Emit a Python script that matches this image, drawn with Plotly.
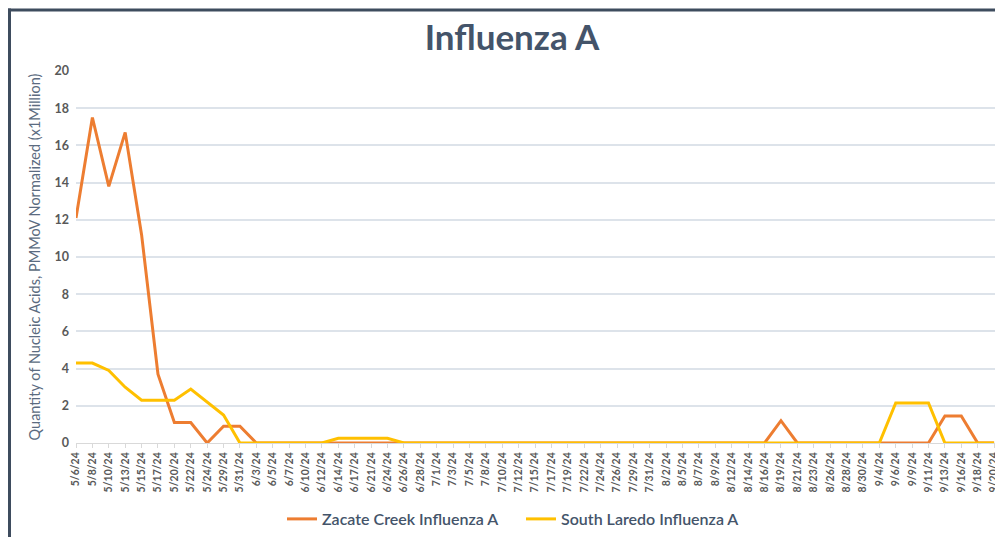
import plotly.graph_objects as go

dates = ["5/6/24","5/8/24","5/10/24","5/13/24","5/15/24","5/17/24","5/20/24","5/22/24","5/24/24","5/29/24",
         "5/31/24","6/3/24","6/5/24","6/7/24","6/10/24","6/12/24","6/14/24","6/17/24","6/21/24","6/24/24",
         "6/26/24","6/28/24","7/1/24","7/3/24","7/5/24","7/8/24","7/10/24","7/12/24","7/15/24","7/17/24",
         "7/19/24","7/22/24","7/24/24","7/26/24","7/29/24","7/31/24","8/2/24","8/5/24","8/7/24","8/9/24",
         "8/12/24","8/14/24","8/16/24","8/19/24","8/21/24","8/23/24","8/26/24","8/28/24","8/30/24","9/4/24",
         "9/6/24","9/9/24","9/11/24","9/13/24","9/16/24","9/18/24","9/20/24"]

zacate = [12.1, 17.5, 13.8, 16.7, 11.2, 3.7, 1.1, 1.1, 0.0, 0.9,
          0.9, 0, 0, 0, 0, 0, 0, 0, 0, 0,
          0, 0, 0, 0, 0, 0, 0, 0, 0, 0,
          0, 0, 0, 0, 0, 0, 0, 0, 0, 0,
          0, 0, 0, 1.2, 0, 0, 0, 0, 0, 0,
          0, 0, 0, 1.45, 1.45, 0, 0]

south_laredo = [4.3, 4.3, 3.9, 3.0, 2.3, 2.3, 2.3, 2.9, 2.2, 1.5,
                0, 0, 0, 0, 0, 0, 0.25, 0.25, 0.25, 0.25,
                0, 0, 0, 0, 0, 0, 0, 0, 0, 0,
                0, 0, 0, 0, 0, 0, 0, 0, 0, 0,
                0, 0, 0, 0, 0, 0, 0, 0, 0, 0,
                2.15, 2.15, 2.15, 0, 0, 0, 0]

y_ticks = [0, 2, 4, 6, 8, 10, 12, 14, 16, 18, 20]

fig = go.Figure()
fig.add_trace(go.Scatter(x=dates, y=zacate, mode="lines", name="Zacate Creek Influenza A",
                         line=dict(color="#ED7D31", width=3)))
fig.add_trace(go.Scatter(x=dates, y=south_laredo, mode="lines", name="South Laredo Influenza A",
                         line=dict(color="#FFC000", width=3)))

# the page body adds an 8px offset; figure coordinates below are page coordinates minus 8
L, R, T, B = 68, 4, 63, 94
W, H = 995, 529
pw, ph = W - L - R, H - T - B

def px_x(p):
    return (p - L) / pw

def px_y(p):
    return (H - B - p) / ph

fig.update_layout(
    width=W, height=H,
    margin=dict(l=L, r=R, t=T, b=B, autoexpand=False),
    paper_bgcolor="white", plot_bgcolor="white",
    font=dict(family="Lato, Open Sans, sans-serif", color="#595959"),
    title=dict(text="<b>Influenza A</b>", x=504 / W, xanchor="center", y=1 - 30 / H, yanchor="middle",
               font=dict(size=35, color="#44546A", family="Lato, Open Sans, sans-serif")),
    showlegend=True,
    legend=dict(orientation="h", x=px_x(274), xanchor="left", y=px_y(511), yanchor="middle",
                font=dict(size=16, color="#44546A", weight=600), itemwidth=30, entrywidth=194,
                bgcolor="rgba(0,0,0,0)"),
    xaxis=dict(type="category", range=[0, 56.3], tickangle=-90,
               tickfont=dict(size=10.5, color="#595959", weight="bold"),
               showgrid=False, showline=True, linecolor="#D9D9D9", linewidth=1,
               ticks="outside", ticklen=4, tickcolor="#D9D9D9", zeroline=False, automargin=False),
    yaxis=dict(range=[0, 20], tickvals=y_ticks, showgrid=True, gridcolor="#DDE3EA", gridwidth=1.5,
               zeroline=False, showline=False, ticks="", ticklabelstandoff=6, automargin=False,
               tickfont=dict(size=12.5, color="#595959", weight="bold"),
               title=dict(text="Quantity of Nucleic Acids, PMMoV Normalized (x1Million)",
                          font=dict(size=14.5, color="#5B6B80"), standoff=10)),
    shapes=[
        dict(type="line", xref="paper", yref="paper", x0=px_x(0), x1=px_x(1010), y0=px_y(2), y1=px_y(2),
             line=dict(color="#3E4C5E", width=3)),
        dict(type="line", xref="paper", yref="paper", x0=px_x(1.5), x1=px_x(1.5), y0=px_y(0.5), y1=px_y(540),
             line=dict(color="#3E4C5E", width=3)),
    ],
)

fig.write_html("out.html")
